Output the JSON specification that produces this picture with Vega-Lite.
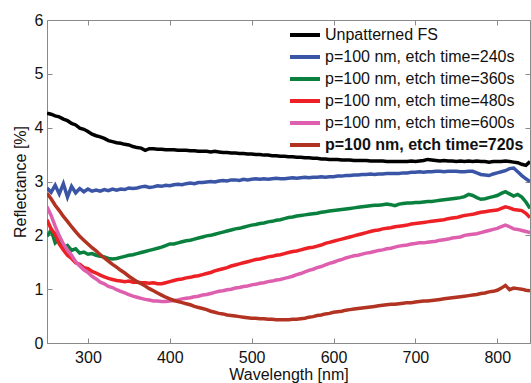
{
  "$schema": "https://vega.github.io/schema/vega-lite/v6.json",
  "width": 483,
  "height": 323,
  "autosize": {"type": "none"},
  "padding": {"left": 47, "top": 20, "right": 1, "bottom": 40},
  "background": "white",
  "config": {
    "font": "Liberation Sans",
    "view": {"stroke": "#8a8a8a", "strokeWidth": 1},
    "axis": {
      "grid": false,
      "domainColor": "#8a8a8a",
      "tickColor": "#8a8a8a",
      "labelFont": "Liberation Sans",
      "titleFont": "Liberation Sans",
      "labelFontSize": 16,
      "titleFontSize": 16,
      "titleFontWeight": "normal",
      "labelColor": "#111",
      "titleColor": "#111"
    }
  },
  "data": {"values": [
    {"w":250,"a":4.27,"b":2.88,"c":1.98,"d":2.29,"e":2.53,"f":2.78},
    {"w":255,"a":4.25,"b":2.80,"c":2.10,"d":2.12,"e":2.37,"f":2.68},
    {"w":260,"a":4.22,"b":2.93,"c":1.86,"d":2.02,"e":2.17,"f":2.56},
    {"w":265,"a":4.20,"b":2.77,"c":1.93,"d":1.84,"e":1.99,"f":2.46},
    {"w":270,"a":4.16,"b":2.96,"c":1.77,"d":1.73,"e":1.84,"f":2.35},
    {"w":275,"a":4.13,"b":2.71,"c":1.81,"d":1.63,"e":1.73,"f":2.26},
    {"w":280,"a":4.08,"b":2.91,"c":1.72,"d":1.57,"e":1.63,"f":2.16},
    {"w":285,"a":4.05,"b":2.79,"c":1.75,"d":1.49,"e":1.51,"f":2.07},
    {"w":290,"a":3.99,"b":2.87,"c":1.67,"d":1.46,"e":1.43,"f":1.98},
    {"w":295,"a":3.97,"b":2.81,"c":1.69,"d":1.40,"e":1.36,"f":1.91},
    {"w":300,"a":3.93,"b":2.86,"c":1.65,"d":1.38,"e":1.31,"f":1.84},
    {"w":305,"a":3.88,"b":2.82,"c":1.66,"d":1.33,"e":1.24,"f":1.77},
    {"w":310,"a":3.85,"b":2.84,"c":1.63,"d":1.30,"e":1.19,"f":1.71},
    {"w":315,"a":3.83,"b":2.82,"c":1.61,"d":1.26,"e":1.13,"f":1.64},
    {"w":320,"a":3.80,"b":2.85,"c":1.60,"d":1.23,"e":1.10,"f":1.58},
    {"w":325,"a":3.76,"b":2.83,"c":1.57,"d":1.20,"e":1.05,"f":1.52},
    {"w":330,"a":3.74,"b":2.86,"c":1.56,"d":1.18,"e":1.03,"f":1.46},
    {"w":335,"a":3.72,"b":2.84,"c":1.57,"d":1.16,"e":0.99,"f":1.41},
    {"w":340,"a":3.71,"b":2.86,"c":1.59,"d":1.15,"e":0.96,"f":1.35},
    {"w":345,"a":3.69,"b":2.85,"c":1.61,"d":1.14,"e":0.93,"f":1.30},
    {"w":350,"a":3.68,"b":2.88,"c":1.63,"d":1.15,"e":0.90,"f":1.24},
    {"w":355,"a":3.65,"b":2.87,"c":1.64,"d":1.13,"e":0.87,"f":1.19},
    {"w":360,"a":3.63,"b":2.88,"c":1.66,"d":1.13,"e":0.85,"f":1.14},
    {"w":365,"a":3.62,"b":2.90,"c":1.68,"d":1.12,"e":0.83,"f":1.10},
    {"w":370,"a":3.58,"b":2.91,"c":1.70,"d":1.12,"e":0.81,"f":1.06},
    {"w":375,"a":3.61,"b":2.89,"c":1.72,"d":1.11,"e":0.80,"f":1.01},
    {"w":380,"a":3.61,"b":2.90,"c":1.74,"d":1.12,"e":0.78,"f":0.97},
    {"w":385,"a":3.60,"b":2.92,"c":1.76,"d":1.10,"e":0.78,"f":0.93},
    {"w":390,"a":3.60,"b":2.91,"c":1.78,"d":1.10,"e":0.77,"f":0.89},
    {"w":395,"a":3.59,"b":2.93,"c":1.81,"d":1.12,"e":0.77,"f":0.85},
    {"w":400,"a":3.59,"b":2.92,"c":1.84,"d":1.14,"e":0.78,"f":0.82},
    {"w":405,"a":3.59,"b":2.94,"c":1.84,"d":1.16,"e":0.79,"f":0.79},
    {"w":410,"a":3.58,"b":2.95,"c":1.86,"d":1.18,"e":0.80,"f":0.77},
    {"w":415,"a":3.58,"b":2.94,"c":1.88,"d":1.19,"e":0.82,"f":0.75},
    {"w":420,"a":3.58,"b":2.96,"c":1.90,"d":1.21,"e":0.83,"f":0.73},
    {"w":425,"a":3.57,"b":2.97,"c":1.91,"d":1.22,"e":0.84,"f":0.71},
    {"w":430,"a":3.57,"b":2.96,"c":1.93,"d":1.24,"e":0.86,"f":0.68},
    {"w":435,"a":3.56,"b":2.98,"c":1.95,"d":1.25,"e":0.87,"f":0.66},
    {"w":440,"a":3.56,"b":2.98,"c":1.97,"d":1.27,"e":0.89,"f":0.64},
    {"w":445,"a":3.56,"b":2.99,"c":1.99,"d":1.29,"e":0.90,"f":0.62},
    {"w":450,"a":3.55,"b":3.00,"c":2.00,"d":1.31,"e":0.92,"f":0.59},
    {"w":455,"a":3.56,"b":2.99,"c":2.02,"d":1.34,"e":0.94,"f":0.57},
    {"w":460,"a":3.55,"b":3.01,"c":2.04,"d":1.36,"e":0.96,"f":0.55},
    {"w":465,"a":3.54,"b":3.02,"c":2.06,"d":1.38,"e":0.97,"f":0.54},
    {"w":470,"a":3.54,"b":3.01,"c":2.08,"d":1.40,"e":0.99,"f":0.52},
    {"w":475,"a":3.53,"b":3.03,"c":2.10,"d":1.43,"e":1.00,"f":0.51},
    {"w":480,"a":3.53,"b":3.03,"c":2.12,"d":1.45,"e":1.02,"f":0.50},
    {"w":485,"a":3.52,"b":3.02,"c":2.13,"d":1.47,"e":1.03,"f":0.49},
    {"w":490,"a":3.52,"b":3.04,"c":2.15,"d":1.49,"e":1.05,"f":0.48},
    {"w":495,"a":3.51,"b":3.03,"c":2.17,"d":1.51,"e":1.06,"f":0.47},
    {"w":500,"a":3.51,"b":3.04,"c":2.19,"d":1.53,"e":1.08,"f":0.46},
    {"w":505,"a":3.50,"b":3.05,"c":2.20,"d":1.55,"e":1.09,"f":0.46},
    {"w":510,"a":3.50,"b":3.04,"c":2.22,"d":1.56,"e":1.11,"f":0.45},
    {"w":515,"a":3.49,"b":3.05,"c":2.23,"d":1.58,"e":1.12,"f":0.45},
    {"w":520,"a":3.49,"b":3.04,"c":2.25,"d":1.60,"e":1.14,"f":0.44},
    {"w":525,"a":3.48,"b":3.05,"c":2.26,"d":1.61,"e":1.15,"f":0.44},
    {"w":530,"a":3.48,"b":3.06,"c":2.28,"d":1.63,"e":1.17,"f":0.43},
    {"w":535,"a":3.47,"b":3.05,"c":2.29,"d":1.64,"e":1.18,"f":0.43},
    {"w":540,"a":3.47,"b":3.05,"c":2.31,"d":1.66,"e":1.20,"f":0.43},
    {"w":545,"a":3.46,"b":3.06,"c":2.33,"d":1.68,"e":1.22,"f":0.43},
    {"w":550,"a":3.46,"b":3.07,"c":2.34,"d":1.70,"e":1.24,"f":0.44},
    {"w":555,"a":3.45,"b":3.06,"c":2.36,"d":1.71,"e":1.27,"f":0.44},
    {"w":560,"a":3.45,"b":3.07,"c":2.37,"d":1.73,"e":1.29,"f":0.45},
    {"w":565,"a":3.44,"b":3.08,"c":2.38,"d":1.75,"e":1.32,"f":0.46},
    {"w":570,"a":3.44,"b":3.07,"c":2.39,"d":1.77,"e":1.35,"f":0.48},
    {"w":575,"a":3.43,"b":3.08,"c":2.40,"d":1.78,"e":1.37,"f":0.49},
    {"w":580,"a":3.43,"b":3.08,"c":2.41,"d":1.80,"e":1.40,"f":0.51},
    {"w":585,"a":3.42,"b":3.09,"c":2.43,"d":1.82,"e":1.42,"f":0.52},
    {"w":590,"a":3.42,"b":3.08,"c":2.44,"d":1.85,"e":1.45,"f":0.54},
    {"w":595,"a":3.41,"b":3.09,"c":2.45,"d":1.87,"e":1.48,"f":0.55},
    {"w":600,"a":3.41,"b":3.09,"c":2.46,"d":1.89,"e":1.50,"f":0.57},
    {"w":605,"a":3.41,"b":3.10,"c":2.47,"d":1.91,"e":1.53,"f":0.58},
    {"w":610,"a":3.40,"b":3.10,"c":2.48,"d":1.93,"e":1.55,"f":0.59},
    {"w":615,"a":3.40,"b":3.11,"c":2.49,"d":1.95,"e":1.58,"f":0.61},
    {"w":620,"a":3.40,"b":3.11,"c":2.50,"d":1.97,"e":1.60,"f":0.62},
    {"w":625,"a":3.39,"b":3.12,"c":2.51,"d":1.99,"e":1.62,"f":0.63},
    {"w":630,"a":3.39,"b":3.12,"c":2.52,"d":2.01,"e":1.63,"f":0.64},
    {"w":635,"a":3.39,"b":3.13,"c":2.53,"d":2.03,"e":1.65,"f":0.65},
    {"w":640,"a":3.39,"b":3.13,"c":2.54,"d":2.05,"e":1.67,"f":0.66},
    {"w":645,"a":3.38,"b":3.14,"c":2.55,"d":2.07,"e":1.68,"f":0.67},
    {"w":650,"a":3.38,"b":3.13,"c":2.56,"d":2.09,"e":1.70,"f":0.68},
    {"w":655,"a":3.38,"b":3.14,"c":2.56,"d":2.10,"e":1.72,"f":0.69},
    {"w":660,"a":3.38,"b":3.14,"c":2.57,"d":2.12,"e":1.73,"f":0.70},
    {"w":665,"a":3.37,"b":3.15,"c":2.58,"d":2.13,"e":1.75,"f":0.71},
    {"w":670,"a":3.37,"b":3.15,"c":2.57,"d":2.14,"e":1.76,"f":0.72},
    {"w":675,"a":3.37,"b":3.15,"c":2.55,"d":2.16,"e":1.78,"f":0.72},
    {"w":680,"a":3.37,"b":3.15,"c":2.58,"d":2.17,"e":1.80,"f":0.73},
    {"w":685,"a":3.37,"b":3.16,"c":2.59,"d":2.18,"e":1.81,"f":0.74},
    {"w":690,"a":3.37,"b":3.16,"c":2.60,"d":2.19,"e":1.82,"f":0.75},
    {"w":695,"a":3.38,"b":3.17,"c":2.60,"d":2.21,"e":1.84,"f":0.75},
    {"w":700,"a":3.37,"b":3.17,"c":2.61,"d":2.22,"e":1.85,"f":0.76},
    {"w":705,"a":3.38,"b":3.18,"c":2.61,"d":2.23,"e":1.86,"f":0.77},
    {"w":710,"a":3.39,"b":3.17,"c":2.62,"d":2.24,"e":1.86,"f":0.78},
    {"w":715,"a":3.41,"b":3.18,"c":2.63,"d":2.25,"e":1.87,"f":0.78},
    {"w":720,"a":3.40,"b":3.18,"c":2.63,"d":2.26,"e":1.88,"f":0.79},
    {"w":725,"a":3.39,"b":3.19,"c":2.64,"d":2.27,"e":1.89,"f":0.80},
    {"w":730,"a":3.38,"b":3.19,"c":2.65,"d":2.28,"e":1.91,"f":0.81},
    {"w":735,"a":3.39,"b":3.18,"c":2.66,"d":2.29,"e":1.92,"f":0.82},
    {"w":740,"a":3.38,"b":3.19,"c":2.67,"d":2.31,"e":1.93,"f":0.83},
    {"w":745,"a":3.38,"b":3.19,"c":2.68,"d":2.32,"e":1.95,"f":0.84},
    {"w":750,"a":3.37,"b":3.19,"c":2.69,"d":2.33,"e":1.96,"f":0.85},
    {"w":755,"a":3.38,"b":3.18,"c":2.70,"d":2.35,"e":1.97,"f":0.86},
    {"w":760,"a":3.37,"b":3.18,"c":2.72,"d":2.37,"e":2.00,"f":0.87},
    {"w":765,"a":3.38,"b":3.19,"c":2.76,"d":2.38,"e":2.01,"f":0.88},
    {"w":770,"a":3.37,"b":3.19,"c":2.74,"d":2.39,"e":2.02,"f":0.89},
    {"w":775,"a":3.38,"b":3.16,"c":2.70,"d":2.41,"e":2.03,"f":0.90},
    {"w":780,"a":3.37,"b":3.13,"c":2.67,"d":2.43,"e":2.05,"f":0.92},
    {"w":785,"a":3.37,"b":3.12,"c":2.68,"d":2.44,"e":2.07,"f":0.93},
    {"w":790,"a":3.36,"b":3.11,"c":2.70,"d":2.45,"e":2.09,"f":0.95},
    {"w":795,"a":3.37,"b":3.14,"c":2.72,"d":2.46,"e":2.11,"f":0.96},
    {"w":800,"a":3.37,"b":3.16,"c":2.74,"d":2.47,"e":2.13,"f":0.98},
    {"w":805,"a":3.37,"b":3.18,"c":2.78,"d":2.50,"e":2.16,"f":1.02},
    {"w":810,"a":3.38,"b":3.20,"c":2.81,"d":2.53,"e":2.19,"f":1.07},
    {"w":815,"a":3.37,"b":3.24,"c":2.77,"d":2.51,"e":2.16,"f":0.99},
    {"w":820,"a":3.36,"b":3.25,"c":2.73,"d":2.48,"e":2.12,"f":1.02},
    {"w":825,"a":3.35,"b":3.18,"c":2.76,"d":2.47,"e":2.11,"f":1.01},
    {"w":830,"a":3.32,"b":3.11,"c":2.71,"d":2.46,"e":2.09,"f":1.00},
    {"w":835,"a":3.30,"b":3.05,"c":2.62,"d":2.41,"e":2.07,"f":0.98},
    {"w":840,"a":3.37,"b":3.00,"c":2.50,"d":2.33,"e":2.05,"f":0.97}
  ]},
  "transform": [
    {"fold": ["a", "b", "c", "d", "e", "f"], "as": ["series", "r"]}
  ],
  "layer": [
    {
      "mark": {"type": "line", "strokeWidth": 3.5, "clip": true},
      "encoding": {
        "x": {
          "field": "w", "type": "quantitative",
          "scale": {"domain": [250, 840], "nice": false, "zero": false},
          "axis": {"title": "Wavelength [nm]", "values": [300, 400, 500, 600, 700, 800], "tickSize": -5, "labelPadding": 11, "titlePadding": 1}
        },
        "y": {
          "field": "r", "type": "quantitative",
          "scale": {"domain": [0, 6], "nice": false},
          "axis": {"title": "Reflectance [%]", "values": [0, 1, 2, 3, 4, 5, 6], "tickSize": -5, "labelPadding": 9, "titlePadding": 6}
        },
        "color": {
          "field": "series", "type": "nominal",
          "scale": {
            "domain": ["a", "b", "c", "d", "e", "f"],
            "range": ["#000000", "#3b55a6", "#0a803f", "#ed2025", "#de5fad", "#b23322"]
          },
          "legend": {
            "title": null,
            "orient": "none",
            "legendX": 241,
            "legendY": 4,
            "symbolType": "stroke",
            "symbolSize": 900,
            "symbolStrokeWidth": 4,
            "clipHeight": 22,
            "rowPadding": 0,
            "labelFont": "Liberation Sans",
            "labelFontSize": 16,
            "labelColor": "#111",
            "labelOffset": 3,
            "labelLimit": 400,
            "labelExpr": "{'a':'Unpatterned FS','b':'p=100 nm, etch time=240s','c':'p=100 nm, etch time=360s','d':'p=100 nm, etch time=480s','e':'p=100 nm, etch time=600s','f':'p=100 nm, etch time=720s'}[datum.value]",
            "encode": {
              "labels": {"update": {"fontWeight": {"signal": "datum.value == 'f' ? 'bold' : 'normal'"}}}
            }
          }
        }
      }
    },
    {
      "mark": {"type": "line", "opacity": 0},
      "encoding": {
        "x": {
          "field": "w", "type": "quantitative",
          "axis": {"orient": "top", "title": null, "labels": false, "domain": false, "values": [300, 400, 500, 600, 700, 800], "tickSize": -5}
        },
        "y": {
          "field": "r", "type": "quantitative",
          "axis": {"orient": "right", "title": null, "labels": false, "domain": false, "values": [0, 1, 2, 3, 4, 5, 6], "tickSize": -5}
        },
        "detail": {"field": "series"}
      }
    }
  ],
  "resolve": {"axis": {"x": "independent", "y": "independent"}}
}
